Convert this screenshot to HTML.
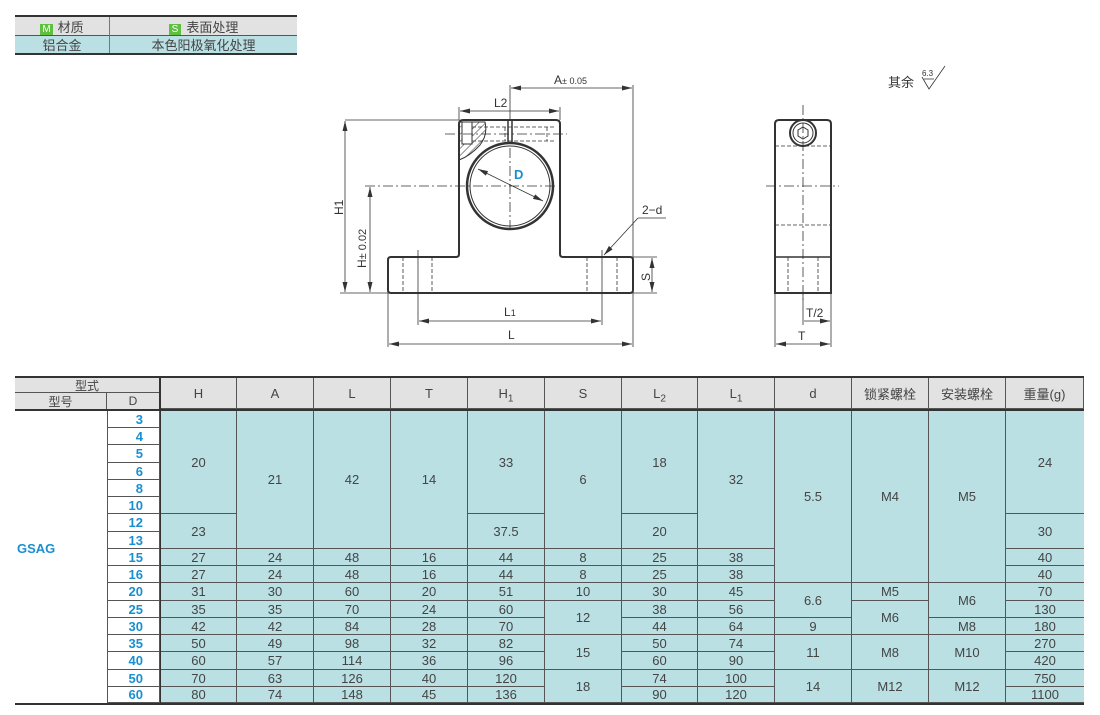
<!DOCTYPE html>
<html><head><meta charset="utf-8"><style>
body{margin:0;width:1100px;height:715px;background:#fff;position:relative;overflow:hidden;font-family:"Liberation Sans","Noto Sans CJK SC",sans-serif;color:#333}
.c{position:absolute;box-sizing:border-box;display:flex;align-items:center;justify-content:center;font-size:13px;color:#444;border-right:1px solid #555;border-bottom:1px solid #555}
.b{background:#bae0e4}
.g{background:#e2e2e2}
.d{background:#fff;color:#1a8fd0;justify-content:flex-end;padding-right:16px;font-weight:bold;border-left:1px solid #555}
.line{position:absolute;background:#333}
.sb{font-size:10px;vertical-align:sub;line-height:0}
</style></head><body>
<div class="line" style="left:15px;top:15px;width:282px;height:2px"></div>
<div class="c g" style="left:15px;top:17px;width:95px;height:19px;border-bottom:1px solid #555;border-right:1px solid #777"><span><span style="background:#5fbf3f;color:#fff;font-size:10px;padding:0 2px;margin-right:5px">M</span>材质</span></div>
<div class="c g" style="left:110px;top:17px;width:187px;height:19px;border-right:none"><span><span style="background:#5fbf3f;color:#fff;font-size:10px;padding:0 3px;margin-right:5px">S</span>表面处理</span></div>
<div class="c b" style="left:15px;top:36px;width:95px;height:17px;border-bottom:none;border-right:1px solid #777">铝合金</div>
<div class="c b" style="left:110px;top:36px;width:187px;height:17px;border-bottom:none;border-right:none">本色阳极氧化处理</div>
<div class="line" style="left:15px;top:53px;width:282px;height:2px"></div>

<svg style="position:absolute;left:0;top:0" width="1100" height="715">
<defs><marker id="ar" markerWidth="10" markerHeight="6" refX="10" refY="3" orient="auto-start-reverse" markerUnits="userSpaceOnUse"><path d="M0,0.5L10,3L0,5.5z" fill="#333"/></marker>
<pattern id="h" width="5" height="5" patternUnits="userSpaceOnUse" patternTransform="rotate(45)"><line x1="0" y1="0" x2="0" y2="5" stroke="#333" stroke-width="1"/></pattern></defs>
<g fill="none" stroke="#333">
<path d="M459,124 Q459,120 463,120 L556,120 Q560,120 560,124 L560,254 Q560,257 563,257 L630,257 Q633,257 633,260 L633,290 Q633,293 630,293 L391,293 Q388,293 388,290 L388,260 Q388,257 391,257 L456,257 Q459,257 459,254 Z" stroke-width="2"/>
<path d="M459,122 L485,122 Q488,135 480,145 Q470,156 459,160 Z" fill="url(#h)" stroke-width="1"/>
<rect x="462" y="122" width="10" height="22" fill="#fff" stroke-width="1"/>
<circle cx="510" cy="186" r="43" stroke-width="2.5"/>
<circle cx="510" cy="186" r="40" stroke-width="1"/>
<line x1="508" y1="120" x2="508" y2="143" stroke-width="1.5"/><line x1="512" y1="120" x2="512" y2="143" stroke-width="1.5"/>
<g stroke-width="0.8" stroke-dasharray="4,2"><line x1="472" y1="127" x2="555" y2="127"/><line x1="472" y1="141" x2="555" y2="141"/><line x1="547" y1="127" x2="547" y2="141"/><line x1="505" y1="127" x2="505" y2="141"/>
<line x1="403" y1="257" x2="403" y2="293"/><line x1="432" y1="257" x2="432" y2="293"/><line x1="587" y1="257" x2="587" y2="293"/><line x1="617" y1="257" x2="617" y2="293"/></g>
<g stroke-width="0.8" stroke-dasharray="10,3,2,3"><line x1="445" y1="134" x2="567" y2="134"/><line x1="365" y1="186" x2="557" y2="186"/><line x1="510" y1="148" x2="510" y2="232"/></g>
<g stroke-width="0.8">
<line x1="345" y1="120" x2="459" y2="120"/><line x1="340" y1="293" x2="388" y2="293"/>
<line x1="345" y1="121" x2="345" y2="292" marker-start="url(#ar)" marker-end="url(#ar)"/>
<line x1="370" y1="187" x2="370" y2="292" marker-start="url(#ar)" marker-end="url(#ar)"/>
<line x1="510" y1="85" x2="510" y2="120"/><line x1="633" y1="85" x2="633" y2="347"/><line x1="388" y1="293" x2="388" y2="347"/>
<line x1="511" y1="88" x2="632" y2="88" marker-start="url(#ar)" marker-end="url(#ar)"/>
<line x1="459" y1="107" x2="459" y2="120"/><line x1="560" y1="107" x2="560" y2="120"/>
<line x1="460" y1="111" x2="559" y2="111" marker-start="url(#ar)" marker-end="url(#ar)"/>
<line x1="418" y1="250" x2="418" y2="325"/><line x1="602" y1="250" x2="602" y2="325"/>
<line x1="419" y1="321" x2="601" y2="321" marker-start="url(#ar)" marker-end="url(#ar)"/>
<line x1="389" y1="344" x2="632" y2="344" marker-start="url(#ar)" marker-end="url(#ar)"/>
<line x1="633" y1="257" x2="657" y2="257"/><line x1="633" y1="293" x2="657" y2="293"/>
<line x1="652" y1="258" x2="652" y2="292" marker-start="url(#ar)" marker-end="url(#ar)"/>
<line x1="666" y1="218" x2="638" y2="218"/><line x1="638" y1="218" x2="604" y2="255" marker-end="url(#ar)"/>
<line x1="478" y1="169" x2="543" y2="201" marker-start="url(#ar)" marker-end="url(#ar)"/>
</g>
<path d="M775,124 Q775,120 779,120 L827,120 Q831,120 831,124 L831,293 L775,293 Z" stroke-width="2"/>
<line x1="775" y1="257" x2="831" y2="257" stroke-width="1.5"/>
<circle cx="803" cy="133" r="13" stroke-width="2"/><circle cx="803" cy="133" r="10" stroke-width="1"/>
<polygon points="803,127 808,130 808,136 803,139 798,136 798,130" stroke-width="1"/>
<g stroke-width="0.8" stroke-dasharray="4,2"><line x1="775" y1="146" x2="831" y2="146"/><line x1="775" y1="225" x2="831" y2="225"/><line x1="788" y1="257" x2="788" y2="293"/><line x1="818" y1="257" x2="818" y2="293"/></g>
<g stroke-width="0.8" stroke-dasharray="10,3,2,3"><line x1="803" y1="105" x2="803" y2="300"/><line x1="766" y1="186" x2="839" y2="186"/></g>
<g stroke-width="0.8"><line x1="803" y1="293" x2="803" y2="325"/><line x1="831" y1="293" x2="831" y2="347"/><line x1="775" y1="293" x2="775" y2="347"/>
<line x1="804" y1="321" x2="830" y2="321" marker-end="url(#ar)"/>
<line x1="776" y1="344" x2="830" y2="344" marker-start="url(#ar)" marker-end="url(#ar)"/>
<path d="M922,77 L929,89 L945,66 M924,79 L934,79"/></g>
</g>
<g font-size="12" fill="#333" font-family="Liberation Sans,sans-serif">
<text x="554" y="84">A<tspan font-size="9">± 0.05</tspan></text>
<text x="494" y="107">L2</text>
<text x="514" y="179" fill="#1a8fd0" font-weight="bold" font-size="13">D</text>
<text x="343" y="215" transform="rotate(-90 343 215)">H1</text>
<text x="366" y="268" transform="rotate(-90 366 268)">H<tspan font-size="11">± 0.02</tspan></text>
<text x="642" y="214">2−d</text>
<text x="650" y="281" transform="rotate(-90 650 281)">S</text>
<text x="504" y="316">L<tspan font-size="9">1</tspan></text>
<text x="508" y="339">L</text>
<text x="806" y="317">T/2</text>
<text x="798" y="340">T</text>
<text x="888" y="87" font-family="Noto Sans CJK SC,sans-serif" font-size="13">其余</text>
<text x="922" y="76" font-size="8">6.3</text>
</g>
</svg>

<div class="line" style="left:15px;top:376px;width:1069px;height:2px"></div>
<div class="c g" style="left:15px;top:378px;width:145px;height:15px;font-size:12px">型式</div>
<div class="c g" style="left:15px;top:393px;width:92px;height:17px;font-size:12px">型号</div>
<div class="c g" style="left:107px;top:393px;width:53px;height:17px;font-size:12px">D</div>
<div class="line" style="left:15px;top:409px;width:1069px;height:2px"></div>
<div class="line" style="left:159px;top:378px;width:2px;height:326px"></div>
<div class="line" style="left:15px;top:703px;width:1069px;height:2px"></div>
<div style="position:absolute;left:17px;top:541px;font-size:13px;color:#1a8fd0;font-weight:bold">GSAG</div>
<div id="t"></div>
<script>
var X=[15,107,161,237,314,391,468,545,622,698,775,852,929,1006,1084];
var Y=[];for(var i=0;i<=17;i++)Y.push(Math.round(411+i*17.24));Y[17]=703;
var H=["H","A","L","T","H<span class='sb'>1</span>","S","L<span class='sb'>2</span>","L<span class='sb'>1</span>","d","锁紧螺栓","安装螺栓","重量(g)"];
var s="";
for(var c=0;c<12;c++)s+='<div class="c g" style="left:'+X[c+2]+'px;top:378px;width:'+(X[c+3]-X[c+2])+'px;height:31px"><span>'+H[c]+'</span></div>';
var D=[3,4,5,6,8,10,12,13,15,16,20,25,30,35,40,50,60];
for(var r=0;r<17;r++)s+='<div class="c d" style="left:107px;top:'+Y[r]+'px;width:53px;height:'+(Y[r+1]-Y[r])+'px">'+D[r]+'</div>';
function sg(a){var o=[],r=0;for(var i=0;i<a.length;i++){var e=a[i];if(Array.isArray(e)){o.push([r,r+e[1],e[0]]);r+=e[1];}else{o.push([r,r+1,e]);r++;}}return o;}
var C=[
[["20",6],["23",2],27,27,31,35,42,50,60,70,80],
[["21",8],24,24,30,35,42,49,57,63,74],
[["42",8],48,48,60,70,84,98,114,126,148],
[["14",8],16,16,20,24,28,32,36,40,45],
[["33",6],["37.5",2],44,44,51,60,70,82,96,120,136],
[["6",8],8,8,10,["12",2],["15",2],["18",2]],
[["18",6],["20",2],25,25,30,38,44,50,60,74,90],
[["32",8],38,38,45,56,64,74,90,100,120],
[["5.5",10],["6.6",2],9,["11",2],["14",2]],
[["M4",10],"M5",["M6",2],["M8",2],["M12",2]],
[["M5",10],["M6",2],"M8",["M10",2],["M12",2]],
[["24",6],["30",2],40,40,70,130,180,270,420,750,1100]];
for(var c=0;c<12;c++){var g=sg(C[c]);for(var k=0;k<g.length;k++){var e=g[k];
s+='<div class="c b" style="left:'+X[c+2]+'px;top:'+Y[e[0]]+'px;width:'+(X[c+3]-X[c+2])+'px;height:'+(Y[e[1]]-Y[e[0]])+'px;'+(c==11?'border-right:none;':'')+'">'+e[2]+'</div>';}}
document.getElementById("t").innerHTML=s;
</script>
</body></html>
